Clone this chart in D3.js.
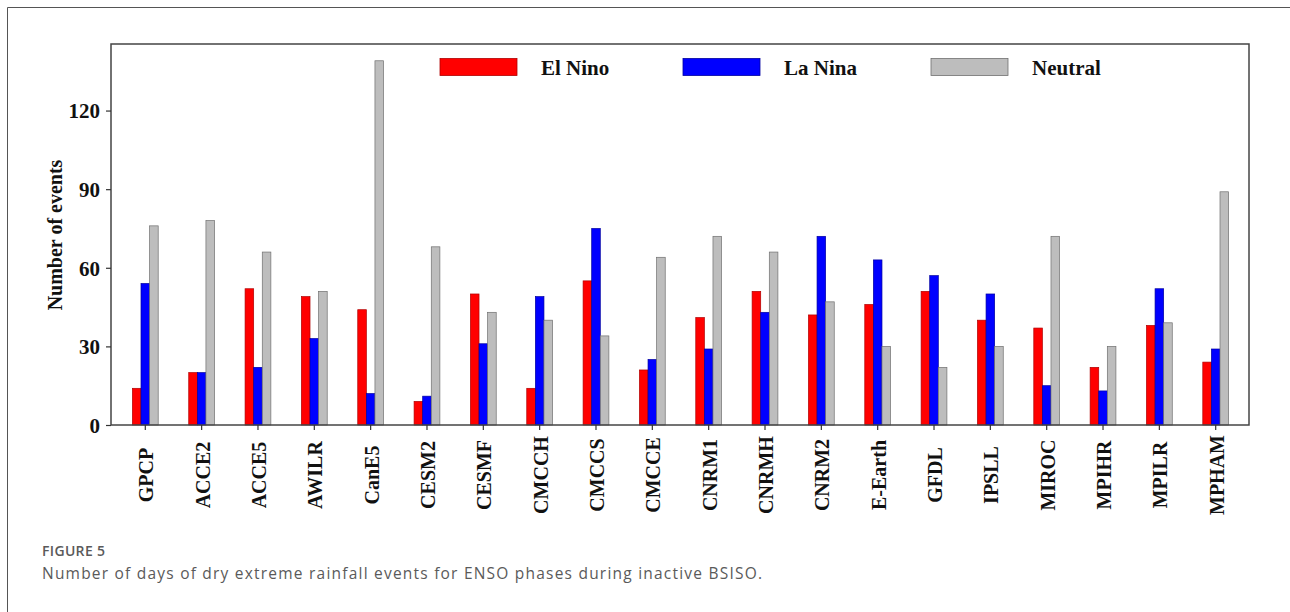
<!DOCTYPE html>
<html><head><meta charset="utf-8">
<script src="https://cdn.jsdelivr.net/npm/d3@7"></script>
<style>
body{margin:0;background:#fff;}
svg{display:block;}
</style></head>
<body>
<svg id="chart" width="1290" height="612"></svg>
<script>
const categories = ["GPCP","ACCE2","ACCE5","AWILR","CanE5","CESM2","CESMF","CMCCH","CMCCS","CMCCE","CNRM1","CNRMH","CNRM2","E-Earth","GFDL","IPSLL","MIROC","MPIHR","MPILR","MPHAM"];
const elNino  = [14,20,52,49,44, 9,50,14,55,21,41,51,42,46,51,40,37,22,38,24];
const laNina  = [54,20,22,33,12,11,31,49,75,25,29,43,72,63,57,50,15,13,52,29];
const neutral = [76,78,66,51,139,68,43,40,34,64,72,66,47,30,22,30,72,30,39,89];
const seriesNames = ["El Nino","La Nina","Neutral"];
const seriesColors = ["#ff0000","#0000ff","#bdbdbd"];
const strokeColors = ["#b00000","#0000a0","#707070"];
const yTicks = [0,30,60,90,120];
const yTitle = "Number of events";
const figLabel = "FIGURE 5";
const caption = "Number of days of dry extreme rainfall events for ENSO phases during inactive BSISO.";

const svg = d3.select("#chart");
const serif = "'Liberation Serif','Times New Roman',serif";
const m = {left:111, top:44, right:1249, bottom:425};

// outer card frame
svg.append("line").attr("x1",7.5).attr("x2",1290).attr("y1",7.5).attr("y2",7.5).attr("stroke","#555").attr("stroke-width",1);
svg.append("line").attr("x1",7.5).attr("x2",7.5).attr("y1",7.5).attr("y2",612).attr("stroke","#555").attr("stroke-width",1);

const x = d3.scalePoint().domain(categories).range([m.left, m.right]).padding(0.6);
const y = d3.scaleLinear().domain([0,145.4]).range([m.bottom, m.top]);
const bw = 8.6;

const series = [elNino, laNina, neutral];
series.forEach((vals, si) => {
  svg.append("g").selectAll("rect").data(vals).join("rect")
    .attr("x", (d,i) => x(categories[i]) + (si-1)*bw - bw/2 + 0.5)
    .attr("y", d => y(d))
    .attr("width", bw)
    .attr("height", d => y(0) - y(d))
    .attr("fill", seriesColors[si])
    .attr("stroke", strokeColors[si])
    .attr("stroke-width", 0.7);
});

// plot frame
svg.append("rect").attr("x",m.left).attr("y",m.top).attr("width",m.right-m.left).attr("height",m.bottom-m.top)
  .attr("fill","none").attr("stroke","#444").attr("stroke-width",1.5);

// y axis
const yAxis = svg.append("g").attr("transform",`translate(${m.left},0)`)
  .call(d3.axisLeft(y).tickValues(yTicks).tickSize(5).tickPadding(6));
yAxis.select(".domain").remove();
yAxis.selectAll("line").attr("stroke","#333").attr("stroke-width",1.2);
yAxis.selectAll("text").attr("font-family",serif).attr("font-weight","bold").attr("font-size",21).attr("fill","#111").attr("dy","0.35em");

// x axis
const xAxis = svg.append("g").attr("transform",`translate(0,${m.bottom})`)
  .call(d3.axisBottom(x).tickSize(5).tickSizeOuter(0));
xAxis.select(".domain").remove();
xAxis.selectAll("line").attr("stroke","#333").attr("stroke-width",1.2);
xAxis.selectAll("text")
  .attr("font-family",serif).attr("font-weight","bold").attr("font-size",20).attr("fill","#111")
  .attr("text-anchor","middle").attr("dy","0.35em")
  .attr("transform", d => `translate(1,50) rotate(-90)`)
  .attr("y",0).attr("x",0);

// y title
svg.append("text").attr("transform",`translate(55,235) rotate(-90)`)
  .attr("text-anchor","middle").attr("dy","0.35em")
  .attr("font-family",serif).attr("font-weight","bold").attr("font-size",20).attr("fill","#111")
  .text(yTitle);

// legend
const legX = [440, 683, 931];
const lg = svg.append("g").selectAll("g").data(seriesNames).join("g")
  .attr("transform",(d,i)=>`translate(${legX[i]},58.5)`);
lg.append("rect").attr("width",77).attr("height",17)
  .attr("fill",(d,i)=>seriesColors[i]).attr("stroke",(d,i)=>strokeColors[i]).attr("stroke-width",0.8);
lg.append("text").attr("x",101).attr("y",16).attr("font-family",serif).attr("font-weight","bold")
  .attr("font-size",21).attr("fill","#111").text(d=>d);

// caption
svg.append("text").attr("x",42).attr("y",556).attr("font-family","'Open Sans',sans-serif").attr("font-weight",600)
  .attr("font-size",14).attr("fill","#5a5a5a").attr("textLength",63).attr("lengthAdjust","spacing").text(figLabel);
svg.append("text").attr("x",42).attr("y",579).attr("font-family","'Open Sans',sans-serif")
  .attr("font-size",15.5).attr("fill","#5a5a5a").attr("textLength",720).attr("lengthAdjust","spacing").text(caption);
</script>
</body></html>
